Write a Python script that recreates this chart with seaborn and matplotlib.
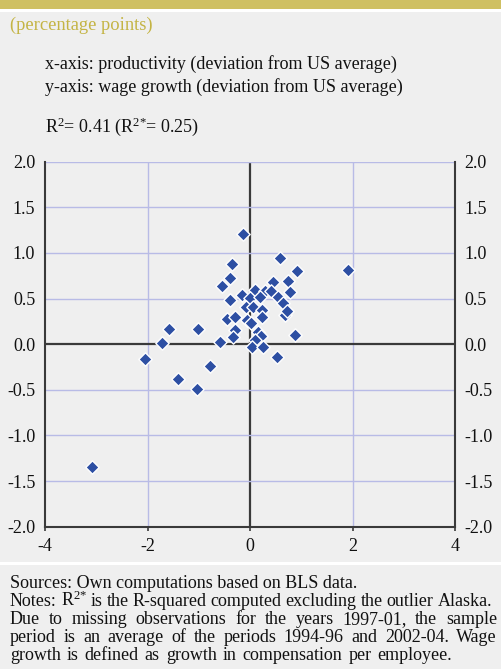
import matplotlib
matplotlib.use("Agg")
import matplotlib.pyplot as plt
import seaborn as sns
import pandas as pd
from matplotlib.patches import Rectangle

# ---- data (deviation from US average, percentage points) ----
productivity = [-3.09, 1.92, -2.05, -1.72, -1.59, -1.01, -1.40, -1.04, -0.79, -0.59,
                -0.13, 0.585, -0.36, 0.91, -0.39, 0.455, 0.75, -0.55, -0.16, 0.10,
                0.29, 0.41, 0.78, 0.00, 0.195, 0.55, -0.39, 0.65, -0.08, 0.065,
                0.23, 0.23, 0.68, 0.72, -0.455, -0.29, -0.065, 0.01, -0.29, -0.33,
                0.16, 0.21, 0.88, 0.10, 0.03, 0.26, 0.52]
wage_growth = [-1.35, 0.81, -0.16, 0.01, 0.17, 0.17, -0.38, -0.49, -0.24, 0.025,
               1.21, 0.95, 0.88, 0.80, 0.73, 0.68, 0.69, 0.64, 0.54, 0.59,
               0.58, 0.58, 0.57, 0.51, 0.52, 0.52, 0.48, 0.45, 0.41, 0.41,
               0.37, 0.30, 0.32, 0.36, 0.28, 0.30, 0.26, 0.23, 0.16, 0.08,
               0.135, 0.09, 0.10, 0.05, -0.03, -0.03, -0.135]
x_ticks = [-4, -2, 0, 2, 4]
y_ticks = [-2.0, -1.5, -1.0, -0.5, 0.0, 0.5, 1.0, 1.5, 2.0]

subtitle = "(percentage points)"
axis_notes = ["x-axis: productivity (deviation from US average)",
              "y-axis: wage growth (deviation from US average)"]
r2_text = r"R$^{2}$= 0.41 (R$^{2{*}}$= 0.25)"
# (text, right edge in px to justify to, or None for natural width)
footer_lines = [
    ("Sources: Own computations based on BLS data.", None),
    (r"Notes: R$^{2{*}}$ is the R-squared computed excluding the outlier Alaska.", 492),
    ("Due to missing observations for the years 1997-01, the sample", 497),
    ("period is an average of the periods 1994-96 and 2002-04. Wage", 497),
    ("growth is defined as growth in compensation per employee.", 452),
]

# ---- style ----
BG = "#efefef"
GOLD_BAND = "#cfc062"
GOLD_TEXT = "#c4b444"
GRID = "#b8bbe6"
DARK = "#3a3a3a"
MARK = "#2d4fa3"
TXT = "#111111"

sns.set_theme(style="white")
plt.rcParams["font.family"] = ["Liberation Serif", "DejaVu Serif"]
plt.rcParams["mathtext.fontset"] = "custom"
plt.rcParams["mathtext.rm"] = "Liberation Serif"
plt.rcParams["mathtext.it"] = "Liberation Serif:italic"
plt.rcParams["mathtext.bf"] = "Liberation Serif:bold"

W, H = 501, 669
fig = plt.figure(figsize=(W / 100, H / 100), dpi=100, facecolor=BG)

# decorative bands
fig.patches.append(Rectangle((0, 1 - 9 / H), 1, 9 / H, transform=fig.transFigure,
                             facecolor=GOLD_BAND, edgecolor="none"))
fig.patches.append(Rectangle((0, 1 - 11.5 / H), 1, 2.5 / H, transform=fig.transFigure,
                             facecolor="white", edgecolor="none"))
fig.patches.append(Rectangle((0, 1 - 565 / H), 1, 3 / H, transform=fig.transFigure,
                             facecolor="white", edgecolor="none"))

ax = fig.add_axes([45 / W, 1 - 526.7 / H, 410 / W, (526.7 - 161.7) / H])
ax.set_facecolor(BG)

df = pd.DataFrame({"productivity": productivity, "wage_growth": wage_growth})

ax.set_xlim(-4, 4)
ax.set_ylim(-2, 2)
ax.set_xticks(x_ticks)
ax.set_yticks(y_ticks)
ax.set_xticklabels([f"{t:d}" for t in x_ticks])
ax.set_yticklabels([f"{t:.1f}" for t in y_ticks])

for t in x_ticks[1:-1]:
    ax.axvline(t, color=DARK if t == 0 else GRID, lw=1.6 if t == 0 else 1.0, zorder=1)
for t in y_ticks[1:]:
    ax.axhline(t, color=DARK if t == 0 else GRID, lw=1.6 if t == 0 else 1.0, zorder=1)

sns.scatterplot(data=df, x="productivity", y="wage_growth", ax=ax, marker="D",
                s=46, color=MARK, edgecolor="white", linewidth=1.0, zorder=3,
                clip_on=False)

ax.set_xlabel("")
ax.set_ylabel("")
for side in ["left", "bottom", "right"]:
    ax.spines[side].set_visible(True)
    ax.spines[side].set_color(DARK)
    ax.spines[side].set_linewidth(1.5)
ax.spines["top"].set_visible(False)

ax.tick_params(axis="x", direction="out", length=3, width=1.2, color=DARK,
               pad=5, labelsize=13, labelcolor=TXT, bottom=True)
ax.tick_params(axis="y", length=0, pad=7, labelsize=13, labelcolor=TXT,
               left=True, right=True, labelleft=True, labelright=True)

# header texts
fig.text(10 / W, 1 - 25 / H, subtitle, color=GOLD_TEXT, fontsize=13.3,
         va="center", ha="left")
fig.text(45 / W, 1 - 64 / H, axis_notes[0], color=TXT, fontsize=13,
         va="center", ha="left")
fig.text(45 / W, 1 - 87 / H, axis_notes[1], color=TXT, fontsize=13,
         va="center", ha="left")
fig.text(45 / W, 1 - 127 / H, r2_text, color=TXT, fontsize=13,
         va="center", ha="left")

# footer, word-placed so lines can be justified like the reference
FS = 13.0
renderer = fig.canvas.get_renderer()
x0_px = 10
y_px = 588
for line, right_px in footer_lines:
    yf = 1 - y_px / H
    if right_px is None:
        fig.text(x0_px / W, yf, line, fontsize=FS, color=TXT,
                 va="baseline", ha="left")
    else:
        words = line.split(" ")
        texts = [fig.text(0, yf, w, fontsize=FS, color=TXT,
                          va="baseline", ha="left") for w in words]
        widths = [t.get_window_extent(renderer).width for t in texts]
        gap = (right_px - x0_px - sum(widths)) / (len(words) - 1)
        xp = x0_px
        for t, wd in zip(texts, widths):
            t.set_x(xp / W)
            xp += wd + gap
    y_px += 17.9

fig.savefig("out.png", dpi=100, facecolor=BG)
